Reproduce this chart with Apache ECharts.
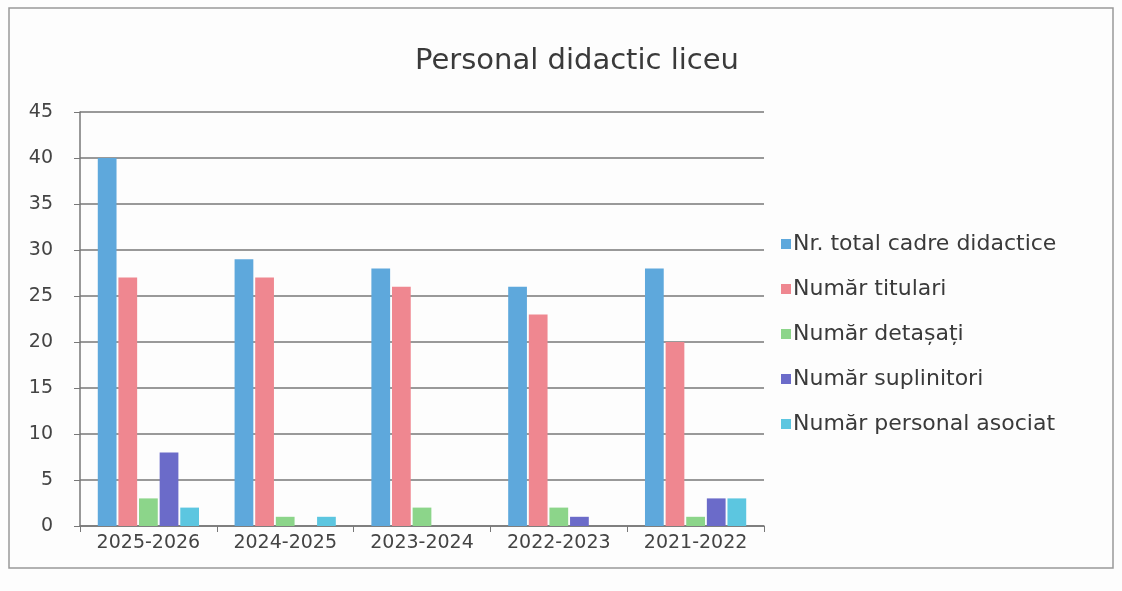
<!DOCTYPE html>
<html>
<head>
<meta charset="utf-8">
<script src="https://cdn.jsdelivr.net/npm/echarts@6/dist/echarts.min.js"></script>
<style>
  html, body { margin: 0; padding: 0; background: #fdfdfd; }
  #chart-container { width: 1122px; height: 591px; }
</style>
</head>
<body>
<div id="chart-container"></div>
<script>
var dom = document.getElementById('chart-container');
var myChart = echarts.init(dom, null, { renderer: 'canvas' });

// data
var years = ['2025-2026', '2024-2025', '2023-2024', '2022-2023', '2021-2022'];
var seriesNames = ['Nr. total cadre didactice', 'Număr titulari', 'Număr detașați', 'Număr suplinitori', 'Număr personal asociat'];
var totalCadre = [40, 29, 28, 26, 28];
var titulari = [27, 27, 26, 23, 20];
var detasati = [3, 1, 2, 2, 1];
var suplinitori = [8, 0, 0, 1, 3];
var asociat = [2, 1, 0, 0, 3];
var colors = ['#5ea8dc', '#ef8790', '#8cd58a', '#6b6bc9', '#5cc6e0'];

var values = [totalCadre, titulari, detasati, suplinitori, asociat];
var series = seriesNames.map(function (name, i) {
  return {
    name: name,
    type: 'bar',
    data: values[i],
    barGap: '10%',
    barCategoryGap: '26%',
    itemStyle: { color: colors[i] }
  };
});

var option = {
  backgroundColor: '#fdfdfd',
  animation: false,
  textStyle: { fontFamily: 'DejaVu Sans' },
  title: {
    text: 'Personal didactic liceu',
    left: 572,
    top: 42,
    textAlign: 'center',
    textStyle: { fontSize: 29, fontWeight: 'normal', color: '#3a3a3a', fontFamily: 'DejaVu Sans' }
  },
  legend: {
    orient: 'vertical',
    left: 776,
    top: 228,
    itemWidth: 10,
    itemHeight: 10,
    itemGap: 23,
    icon: 'rect',
    textStyle: { fontSize: 22, color: '#3a3a3a', padding: [0, 0, 0, -3] },
    data: seriesNames
  },
  grid: { left: 80, right: 358, top: 112, bottom: 65 },
  xAxis: {
    type: 'category',
    data: years,
    axisLine: { lineStyle: { color: '#777', width: 1.5 } },
    axisTick: { show: true, length: 6, lineStyle: { color: '#777' } },
    axisLabel: { fontSize: 19, color: '#444', margin: 8, interval: 0, hideOverlap: false }
  },
  yAxis: {
    type: 'value',
    min: 0,
    max: 45,
    interval: 5,
    axisLine: { show: true, lineStyle: { color: '#777', width: 1.5 } },
    axisTick: { show: true, length: 6, lineStyle: { color: '#777' } },
    axisLabel: { fontSize: 19, color: '#444', margin: 27 },
    splitLine: { lineStyle: { color: '#777', width: 1.5 } }
  },
  graphic: [{
    type: 'rect',
    shape: { x: 9, y: 8, width: 1104, height: 560 },
    style: { fill: 'none', stroke: '#999', lineWidth: 1.5 },
    silent: true
  }],
  series: series
};

myChart.setOption(option);
window.addEventListener('resize', myChart.resize);
</script>
</body>
</html>
